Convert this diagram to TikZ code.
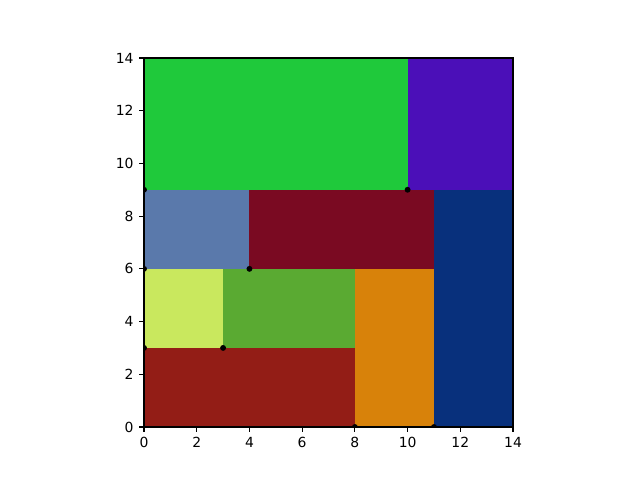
\documentclass[tikz,border=0pt]{standalone}
\usepackage{fontspec}
\setmainfont{DejaVu Sans}
\usetikzlibrary{positioning}
\definecolor{topGreen}{HTML}{1FC93B}
\definecolor{violet}{HTML}{4B0FB8}
\definecolor{steel}{HTML}{5A79AB}
\definecolor{maroon}{HTML}{7A0A22}
\definecolor{navy}{HTML}{08307C}
\definecolor{lime}{HTML}{C9E85E}
\definecolor{grass}{HTML}{5AAA32}
\definecolor{amber}{HTML}{D8820A}
\definecolor{brick}{HTML}{931D16}

\begin{document}
\begin{tikzpicture}[x=0.659cm,y=0.659cm]
    \tikzset{tile/.style={draw=none}, frame/.style={draw=black,line width=0.8pt}, tickmark/.style={line width=0.8pt}, ticklabel/.style={inner sep=0pt,font=\fontsize{9.9}{12}\selectfont}}
    \useasboundingbox (-5.463,-2.011) rectangle (18.816,16.199);
    \begin{scope}
      \clip (0,0) rectangle (14,14);
      % tiles
      \fill[tile,topGreen] (0,9) rectangle (10,14);
      \fill[tile,violet] (10,9) rectangle (14,14);
      \fill[tile,steel] (0,6) rectangle (4,9);
      \fill[tile,maroon] (4,6) rectangle (11,9);
      \fill[tile,navy] (11,0) rectangle (14,9);
      \fill[tile,lime] (0,3) rectangle (3,6);
      \fill[tile,grass] (3,3) rectangle (8,6);
      \fill[tile,amber] (8,0) rectangle (11,6);
      \fill[tile,brick] (0,0) rectangle (8,3);
      % corner points
      \foreach \p in {(0,9),(10,9),(0,6),(4,6),(0,3),(3,3),(8,0),(11,0)}
        \fill[black] \p circle (2.1pt);
    \end{scope}
    \draw[frame] (0,0) rectangle (14,14);
    \foreach \v in {0,2,...,14} {
      \draw[tickmark] (\v,0) -- ++(0,-3.5pt) node[ticklabel,below=3.5pt] {\v};
      \draw[tickmark] (0,\v) -- ++(-3.5pt,0) node[ticklabel,left=3.5pt] {\v};
    }
  \end{tikzpicture}
\end{document}
